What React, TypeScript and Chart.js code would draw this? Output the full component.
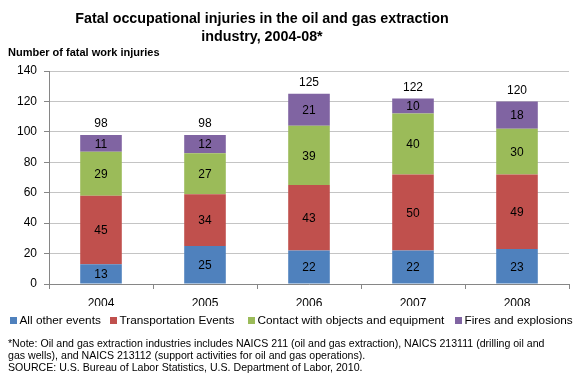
import React, { useEffect, useRef } from "react";
import { Chart, registerables } from "chart.js";
Chart.register(...registerables);

const categories = ["2004", "2005", "2006", "2007", "2008"];
const allOther = [13, 25, 22, 22, 23];
const transportation = [45, 34, 43, 50, 49];
const contact = [29, 27, 39, 40, 30];
const fires = [11, 12, 21, 10, 18];
const totals = [98, 98, 125, 122, 120];
const yTicks = [0, 20, 40, 60, 80, 100, 120, 140];
const seriesNames = ["All other events", "Transportation Events", "Contact with objects and equipment", "Fires and explosions"];
const seriesColors = ["#4f81bd", "#c0504d", "#9bbb59", "#8064a2"];

const titleLines = ["Fatal occupational injuries in the oil and gas extraction", "industry, 2004-08*"];
const yTitle = "Number of fatal work injuries";
const noteLines = [
  "*Note: Oil and gas extraction industries includes NAICS 211 (oil and gas extraction), NAICS 213111 (drilling oil and",
  "gas wells), and NAICS 213112 (support activities for oil and gas operations).",
  "SOURCE: U.S. Bureau of Labor Statistics, U.S. Department of Labor, 2010.",
];

const FONT = "Arial, 'Liberation Sans', sans-serif";

const textPlugin = {
  id: "texts",
  afterDraw(chart: any) {
    const ctx = chart.ctx;
    ctx.save();
    ctx.fillStyle = "#000";
    ctx.textBaseline = "middle";
    ctx.textAlign = "center";
    ctx.font = `bold 14.3px ${FONT}`;
    ctx.fillText(titleLines[0], 262, 19);
    ctx.fillText(titleLines[1], 262, 37);
    ctx.textAlign = "left";
    ctx.font = `bold 11px ${FONT}`;
    ctx.fillText(yTitle, 8, 53);
    ctx.font = `10.6px ${FONT}`;
    noteLines.forEach((l, i) => ctx.fillText(l, 8, 344 + i * 12));

    // legend
    ctx.font = `11.8px ${FONT}`;
    const legendX = [10, 110, 248, 455];
    chart.data.datasets.forEach((ds: any, di: number) => {
      ctx.fillStyle = ds.backgroundColor;
      ctx.fillRect(legendX[di], 317, 7, 7);
      ctx.fillStyle = "#000";
      ctx.fillText(ds.label, legendX[di] + 9.5, 320.5);
    });

    ctx.textAlign = "center";
    ctx.font = `12px ${FONT}`;
    chart.data.datasets.forEach((ds: any, di: number) => {
      const meta = chart.getDatasetMeta(di);
      meta.data.forEach((bar: any, i: number) => {
        const yMid = (bar.y + bar.base) / 2;
        ctx.fillText(String(ds.data[i]), bar.x, yMid + 1);
      });
    });
    const yScale = chart.scales.y;
    const meta0 = chart.getDatasetMeta(0);
    totals.forEach((t, i) => {
      const x = meta0.data[i].x;
      ctx.fillText(String(t), x, yScale.getPixelForValue(t) - 11);
    });
    ctx.restore();
  },
};

export default function App() {
  const ref = useRef<HTMLCanvasElement>(null);
  useEffect(() => {
    document.body.style.margin = "0";
    const chart = new Chart(ref.current!, {
      type: "bar",
      data: {
        labels: categories,
        datasets: [
          { label: seriesNames[0], data: allOther, backgroundColor: seriesColors[0] },
          { label: seriesNames[1], data: transportation, backgroundColor: seriesColors[1] },
          { label: seriesNames[2], data: contact, backgroundColor: seriesColors[2] },
          { label: seriesNames[3], data: fires, backgroundColor: seriesColors[3] },
        ],
      },
      options: {
        responsive: false,
        animation: false,
        maintainAspectRatio: false,
        layout: { padding: { top: 71, left: 0, right: 11, bottom: 77 } },
        datasets: { bar: { categoryPercentage: 0.4, barPercentage: 1 } },
        plugins: {
          legend: { display: false },
          title: { display: false },
          tooltip: { enabled: false },
        },
        scales: {
          x: {
            stacked: true,
            afterFit: (axis: any) => {
              axis.height = 22;
            },
            grid: { display: true, drawOnChartArea: false, offset: true, tickLength: 5, color: "#868686" },
            border: { color: "#868686" },
            ticks: { color: "#000", font: { family: FONT, size: 12 }, padding: 7 },
          },
          y: {
            stacked: true,
            min: 0,
            max: 140,
            afterBuildTicks: (axis: any) => {
              axis.ticks = yTicks.map((v) => ({ value: v }));
            },
            afterFit: (axis: any) => {
              axis.width = 49;
            },
            grid: {
              color: "#c4c4c4",
              borderDash: [1, 2],
              tickColor: "#868686",
              tickBorderDash: [],
              tickLength: 5,
            },
            border: { color: "#868686" },
            ticks: { color: "#000", font: { family: FONT, size: 12 }, padding: 7 },
          },
        },
      },
      plugins: [textPlugin],
    });
    return () => chart.destroy();
  }, []);
  return (
    <div style={{ position: "absolute", left: 0, top: 0, width: 580, height: 383, background: "#fff" }}>
      <canvas ref={ref} width={580} height={383} />
    </div>
  );
}
